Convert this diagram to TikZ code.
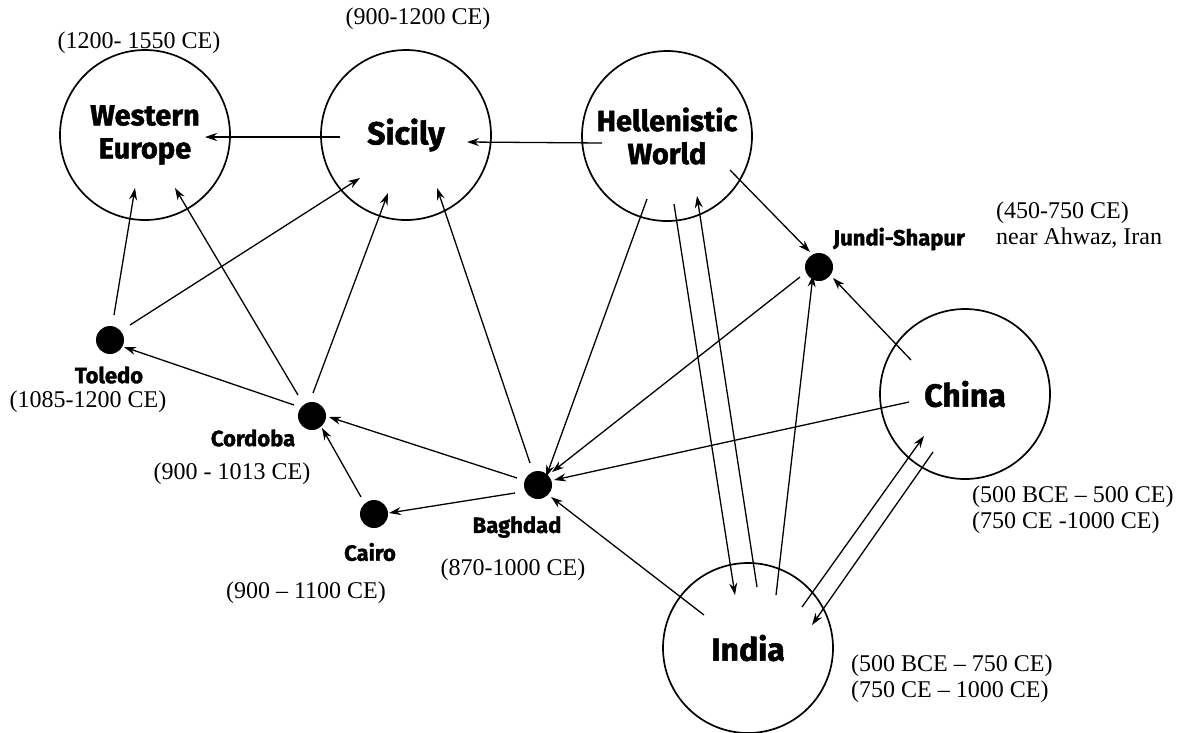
\documentclass[tikz,border=0pt]{standalone}
\usepackage{fontspec}
\setmainfont{Liberation Serif}
\newfontfamily\labfont{Fira Sans}[BoldFeatures={FakeBold=1.6}]
\usetikzlibrary{arrows.meta,calc}
\begin{document}
\begin{tikzpicture}[x=1pt,y=-1pt,
  big/.style={circle, draw, line width=1.7pt, minimum size=170pt, inner sep=0pt, align=center,
              font=\labfont\bfseries\fontsize{29}{33}\selectfont},
  bigger/.style={big, font=\labfont\bfseries\fontsize{32}{34}\selectfont},
  dot/.style={circle, fill, minimum size=28pt, inner sep=0pt},
  city/.style={inner sep=0pt, font=\labfont\bfseries\fontsize{22}{24}\selectfont},
  date/.style={inner sep=0pt, align=left, font=\fontsize{24}{26}\selectfont},
  arr/.style={line width=1.3pt, -{Stealth[length=12pt,width=8pt]}}]
\useasboundingbox (0,0) rectangle (1180,732);
% main regions
\node[big] (we) at (145,135) {Western\\Europe};
\node[bigger] (sic) at (406,135) {Sicily};
\node[big] (hel) at (667,136) {Hellenistic\\World};
\node[bigger] (china) at (965,394) {China};
\node[bigger] (india) at (748,648) {India};
% cities
\node[dot] (tol) at (110,340) {};
\node[dot] (cor) at (312,416) {};
\node[dot] (cai) at (374,514) {};
\node[dot] (bag) at (538,485) {};
\node[dot] (jun) at (819,267) {};
% city names
\node[city] (tolL) at (109,375) {Toledo};
\node[city] (corL) at (253,438) {Cordoba};
\node[city] (caiL) at (370,552) {Cairo};
\node[city] (bagL) at (517,527) {Baghdad};
\node[city] (junL) at (899,239) {Jundi-Shapur};
% dates
\node[date] (weD) at (139,43) {(1200- 1550 CE)};
\node[date] (sicD) at (418,19) {(900-1200 CE)};
\node[date] (tolD) at (88,402) {(1085-1200 CE)};
\node[date] (corD) at (232,474) {(900 - 1013 CE)};
\node[date] (caiD) at (306,593) {(900 -- 1100 CE)};
\node[date] (bagD) at (513,570) {(870-1000 CE)};
\node[date, anchor=west] (junD) at (996,225) {(450-750 CE)\\near Ahwaz, Iran};
\node[date, anchor=west] (chinaD) at (972,510) {(500 BCE -- 500 CE)\\(750 CE -1000 CE)};
\node[date, anchor=west] (indiaD) at (851,679) {(500 BCE -- 750 CE)\\(750 CE -- 1000 CE)};
% connectors
\draw[arr] ([shift={(-66,2)}]sic.center) -- ([shift={(60,2)}]we.center);
\draw[arr] ([shift={(-65,7)}]hel.center) -- ([shift={(61,7)}]sic.center);
\draw[arr] ([shift={(4,-25)}]tol.center) -- ([shift={(-10,53)}]we.center);
\draw[arr] ([shift={(-14,-21)}]cor.center) -- ([shift={(30,53)}]we.center);
\draw[arr] ([shift={(20,-15)}]tol.center) -- ([shift={(-46,43)}]sic.center);
\draw[arr] ([shift={(1,-23)}]cor.center) -- ([shift={(-18,58)}]sic.center);
\draw[arr] ([shift={(-8,-22)}]bag.center) -- ([shift={(31,53)}]sic.center);
\draw[arr] ([shift={(-18,-11)}]cor.center) -- ([shift={(14,7)}]tol.center);
\draw[arr] ([shift={(-21,-7)}]bag.center) -- ([shift={(17,1)}]cor.center);
\draw[arr] ([shift={(-13,-17)}]cai.center) -- ([shift={(10,12)}]cor.center);
\draw[arr] ([shift={(-23,8)}]bag.center) -- ([shift={(15,-1)}]cai.center);
\draw[arr] ([shift={(63,34)}]hel.center) -- ([shift={(-9,-15)}]jun.center);
\draw[arr] ([shift={(-20,63)}]hel.center) -- ([shift={(8,-8)}]bag.center);
\draw[arr] ([shift={(7,68)}]hel.center) -- ([shift={(-13,-53)}]india.center);
\draw[arr] ([shift={(9,-61)}]india.center) -- ([shift={(30,60)}]hel.center);
\draw[arr] ([shift={(-19,10)}]jun.center) -- ([shift={(14,-13)}]bag.center);
\draw[arr] ([shift={(-54,-34)}]china.center) -- ([shift={(14,11)}]jun.center);
\draw[arr] ([shift={(-56,8)}]china.center) -- ([shift={(16,-5)}]bag.center);
\draw[arr] ([shift={(-44,-33)}]india.center) -- ([shift={(13,12)}]bag.center);
\draw[arr] ([shift={(28,-53)}]india.center) -- ([shift={(-6,8)}]jun.center);
\draw[arr] ([shift={(54,-41)}]india.center) -- ([shift={(-41,42)}]china.center);
\draw[arr] ([shift={(-32,58)}]china.center) -- ([shift={(64,-23)}]india.center);
\end{tikzpicture}
\end{document}
